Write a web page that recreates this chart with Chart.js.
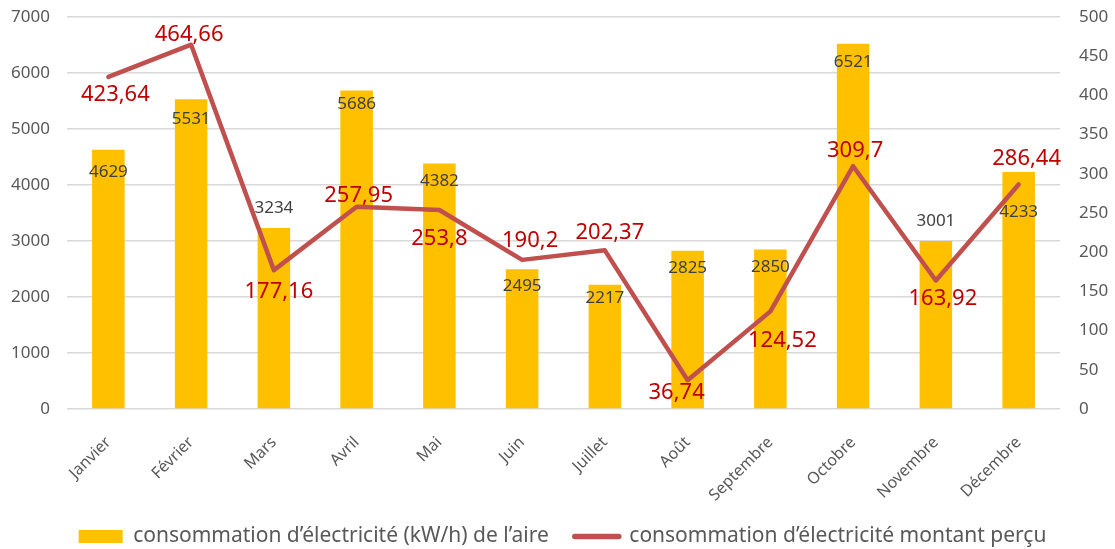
<!DOCTYPE html>
<html><head><meta charset="utf-8">
<script src="https://cdn.jsdelivr.net/npm/chart.js@4/dist/chart.umd.min.js"></script>
<style>html,body{margin:0;padding:0;background:#fff}</style>
</head><body>
<canvas id="c" width="1115" height="549"></canvas>
<script>
const categories = ['Janvier','Février','Mars','Avril','Mai','Juin','Juillet','Août','Septembre','Octobre','Novembre','Décembre'];
const consommation = [4629, 5531, 3234, 5686, 4382, 2495, 2217, 2825, 2850, 6521, 3001, 4233];
const montant = [423.64, 464.66, 177.16, 257.95, 253.8, 190.2, 202.37, 36.74, 124.52, 309.7, 163.92, 286.44];
const seriesNames = ['consommation d\u2019électricité (kW/h) de l\u2019aire', 'consommation d\u2019électricité montant perçu'];
const leftAxis = {min: 0, max: 7000, step: 1000};
const rightAxis = {min: 0, max: 500, step: 50};

Chart.defaults.font.family = "'Noto Sans', sans-serif";

const labelPlugin = {
  id: 'valueLabels',
  afterDatasetsDraw(chart, args, opts) {
    const ctx = chart.ctx;
    ctx.save();
    ctx.textAlign = 'center';
    ctx.textBaseline = 'middle';
    ctx.font = "17px 'Noto Sans'";
    ctx.fillStyle = '#404040';
    chart.getDatasetMeta(0).data.forEach((el, i) => {
      ctx.fillText(String(consommation[i]), el.x, el.y + opts.barDy[i]);
    });
    ctx.font = "22px 'Noto Sans'";
    ctx.fillStyle = '#C00000';
    chart.getDatasetMeta(1).data.forEach((el, i) => {
      ctx.fillText(String(montant[i]).replace('.', ','), el.x + opts.lineDx[i], el.y + opts.lineDy[i]);
    });
    ctx.restore();
  }
};

const layoutTweaks = {
  id: 'layoutTweaks',
  afterLayout(chart, args, opts) {
    chart.legend.left += opts.dx;
    chart.legend.right += opts.dx;
  },
  beforeDraw(chart) {
    // let rotated month labels overflow the x scale box
    chart.scales.x._computeLabelArea = function () { return undefined; };
  }
};

function fixVertical(s, w) {
  s.width = w;
  s.paddingTop = 10;
  s.paddingBottom = 10;
}

new Chart(document.getElementById('c'), {
  type: 'bar',
  data: {
    labels: categories,
    datasets: [
      {
        type: 'bar', label: seriesNames[0], data: consommation, yAxisID: 'y',
        backgroundColor: '#FFC000', borderWidth: 0, order: 2,
        categoryPercentage: 1, barPercentage: 0.393
      },
      {
        type: 'line', label: seriesNames[1], data: montant, yAxisID: 'y1',
        borderColor: '#C0504D', backgroundColor: '#C0504D', borderWidth: 4.5,
        pointRadius: 0, tension: 0, order: 1, borderCapStyle: 'round', borderJoinStyle: 'round',
        pointStyle: 'line'
      }
    ]
  },
  options: {
    responsive: false,
    animation: false,
    devicePixelRatio: 1,
    layout: {padding: {top: 17, bottom: -8, left: 0, right: 0}},
    plugins: {
      tooltip: {enabled: false},
      legend: {
        position: 'bottom',
        labels: {
          usePointStyle: true, pointStyleWidth: 44, boxHeight: 13,
          padding: 26, color: '#595959', font: {size: 21},
          sort: (a, b) => a.datasetIndex - b.datasetIndex,
          generateLabels(chart) {
            const items = Chart.defaults.plugins.legend.labels.generateLabels(chart);
            items.forEach(it => {
              if (it.datasetIndex === 0) { it.pointStyle = 'rect'; it.lineWidth = 0; }
              else { it.pointStyle = 'line'; it.lineCap = 'round'; it.lineWidth = 5.5; }
            });
            return items;
          }
        }
      },
      valueLabels: {
        barDy: [22, 20, -20, 14, 18, 17, 13, 17, 18, 18, -20, 40],
        lineDx: [7, -2, 5, 2, 0, 8, 5, -11, 12, 2, 7, 8],
        lineDy: [18, -10, 22, -11, 29, -19, -18, 13, 29, -15, 18, -26]
      },
      layoutTweaks: {dx: 5}
    },
    scales: {
      x: {
        grid: {display: false}, border: {display: false},
        ticks: {color: '#595959', font: {size: 16}, minRotation: 45, maxRotation: 45, padding: 16, autoSkip: false},
        afterFit(s) { s.height = 91; }
      },
      y: {
        position: 'left', min: leftAxis.min, max: leftAxis.max,
        ticks: {stepSize: leftAxis.step, color: '#595959', font: {size: 17}, padding: 17, callback: v => String(v)},
        grid: {color: '#D9D9D9', lineWidth: 1.5, drawTicks: false},
        border: {display: false},
        afterFit(s) { fixVertical(s, 67); }
      },
      y1: {
        position: 'right', min: rightAxis.min, max: rightAxis.max,
        ticks: {stepSize: rightAxis.step, color: '#595959', font: {size: 17}, padding: 19, callback: v => String(v)},
        grid: {display: false, drawTicks: false},
        border: {display: false},
        afterFit(s) { fixVertical(s, 55); }
      }
    }
  },
  plugins: [labelPlugin, layoutTweaks]
});
</script>
</body></html>
